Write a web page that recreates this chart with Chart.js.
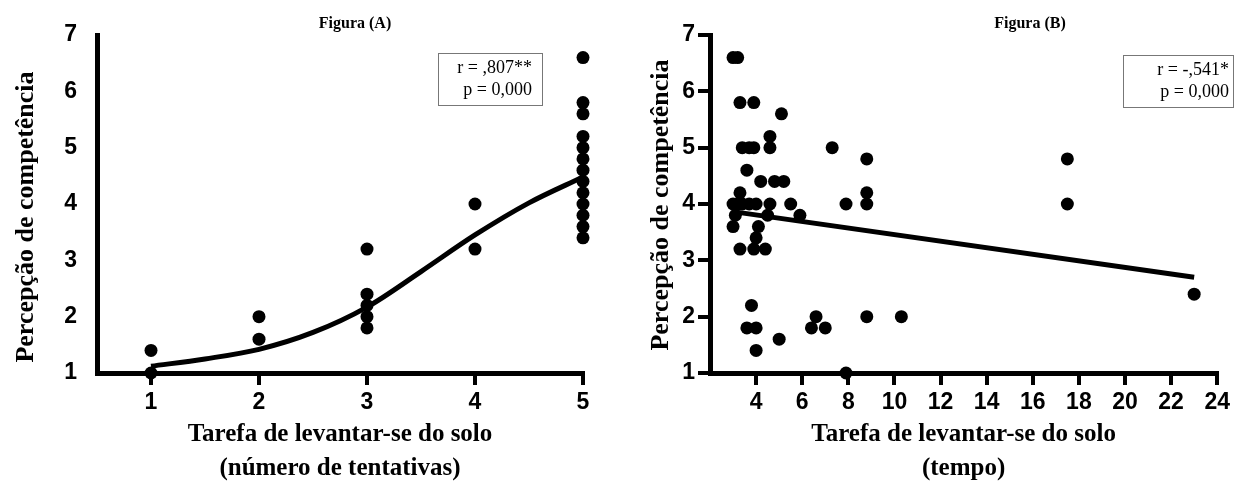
<!DOCTYPE html>
<html lang="pt">
<head>
<meta charset="UTF-8">
<title>Percepção de competência</title>
<style>
  body { margin: 0; background: #fff; }
  canvas { position: absolute; top: 0; }
  #figA { left: 0; }
  #figB { left: 617px; }
</style>
</head>
<body>
<canvas id="figA" width="617" height="489"></canvas>
<canvas id="figB" width="617" height="489"></canvas>

<script src="https://cdn.jsdelivr.net/npm/chart.js"></script>
<script>
// Figura (A) - número de tentativas
const tentativasX = [1, 1, 2, 2, 3, 3, 3, 3, 3, 4, 4,
                     5, 5, 5, 5, 5, 5, 5, 5, 5, 5, 5, 5, 5];
const tentativasY = [1.4, 1.0, 2.0, 1.6, 3.2, 2.4, 2.2, 2.0, 1.8, 4.0, 3.2,
                     6.6, 5.8, 5.6, 5.2, 5.0, 4.8, 4.6, 4.4, 4.2, 4.0, 3.8, 3.6, 3.4];
// curva ajustada
const curvaX = [1, 1.5, 2, 2.5, 3, 3.5, 4, 4.5, 5];
const curvaY = [1.12, 1.25, 1.42, 1.72, 2.17, 2.8, 3.45, 4.02, 4.48];
const ticksXA = [1, 2, 3, 4, 5];

// Figura (B) - tempo
const tempoX = [3.0, 3.2, 3.3, 3.9, 5.1, 3.4, 3.7, 3.9, 4.6, 4.6, 3.6,
                4.2, 4.8, 5.2, 3.3, 3.0, 3.2, 3.4, 3.7, 4.0, 4.6, 5.5, 7.9, 8.8,
                8.8, 8.8, 7.3, 5.9, 4.5, 3.1, 3.0, 4.1, 4.0, 3.3, 3.9, 4.4,
                3.8, 3.6, 4.0, 4.0, 5.0, 6.4, 6.6, 7.0, 7.9, 8.8, 10.3,
                17.5, 17.5, 23.0];
const tempoY = [6.6, 6.6, 5.8, 5.8, 5.6, 5.0, 5.0, 5.0, 5.2, 5.0, 4.6,
                4.4, 4.4, 4.4, 4.2, 4.0, 4.0, 4.0, 4.0, 4.0, 4.0, 4.0, 4.0, 4.0,
                4.2, 4.8, 5.0, 3.8, 3.8, 3.8, 3.6, 3.6, 3.4, 3.2, 3.2, 3.2,
                2.2, 1.8, 1.8, 1.4, 1.6, 1.8, 2.0, 1.8, 1.0, 2.0, 2.0,
                4.8, 4.0, 2.4];
const retaX = [3.07, 23.0];
const retaY = [3.86, 2.7];
const ticksXB = [4, 6, 8, 10, 12, 14, 16, 18, 20, 22, 24];

const ticksY = [1, 2, 3, 4, 5, 6, 7];

const pares = (xs, ys) => xs.map((x, i) => ({x: x, y: ys[i]}));

// títulos, rótulo do eixo y e caixa com r / p
const textos = {
  id: 'textos',
  afterDraw(chart, args, o) {
    const ctx = chart.ctx;
    ctx.save();
    ctx.fillStyle = '#000';
    ctx.textAlign = 'center';
    ctx.textBaseline = 'middle';
    ctx.font = 'bold 16px "Liberation Serif"';
    ctx.fillText(o.titulo, o.tituloX, 24);

    ctx.save();
    ctx.translate(o.eixoX, o.eixoY);
    ctx.rotate(-Math.PI / 2);
    ctx.font = 'bold 26px "Liberation Serif"';
    ctx.fillText('Percepção de competência', 0, 0);
    ctx.restore();

    const c = o.caixa;
    ctx.strokeStyle = '#777';
    ctx.lineWidth = 1;
    ctx.strokeRect(c.x + 0.5, c.y + 0.5, c.w, c.h);
    ctx.font = '18px "Liberation Serif"';
    ctx.textAlign = 'right';
    ctx.fillText(c.linhas[0], c.x + c.w - c.dx, c.y + 15);
    ctx.fillText(c.linhas[1], c.x + c.w - c.dx, c.y + 37);
    ctx.restore();
  }
};

function eixos(xmin, xmax, xticks, xtitulo, yTick, yPad) {
  const fonteTick = {family: 'Liberation Sans', size: 23, weight: 'bold'};
  return {
    x: {
      type: 'linear', min: xmin, max: xmax,
      afterBuildTicks: s => { s.ticks = xticks.map(v => ({value: v})); },
      afterFit: s => { s.height = 116; },
      border: {color: '#000', width: 5},
      grid: {drawOnChartArea: false, color: '#000', lineWidth: 4, tickLength: 12},
      ticks: {color: '#000', font: fonteTick, padding: 4, maxRotation: 0},
      title: {
        display: true, text: xtitulo, color: '#000',
        font: {family: 'Liberation Serif', size: 25, weight: 'bold', lineHeight: 1.36},
        padding: {bottom: 3}
      }
    },
    y: {
      type: 'linear', min: 1, max: 7,
      afterBuildTicks: s => { s.ticks = ticksY.map(v => ({value: v})); },
      afterFit: s => { s.width = yTick.w; },
      border: {color: '#000', width: 5},
      grid: {drawOnChartArea: false, drawTicks: yTick.draw, color: '#000', lineWidth: 4, tickLength: 12},
      ticks: {color: '#000', font: fonteTick, padding: yPad}
    }
  };
}

new Chart(document.getElementById('figA'), {
  type: 'scatter',
  data: {
    datasets: [{
      type: 'line',
      data: pares(curvaX, curvaY),
      borderColor: '#000', borderWidth: 5, pointRadius: 0,
      cubicInterpolationMode: 'monotone', fill: false, clip: false
    }, {
      data: pares(tentativasX, tentativasY),
      backgroundColor: '#000', borderWidth: 0, pointRadius: 6.5, clip: false
    }]
  },
  options: {
    responsive: false, animation: false,
    layout: {padding: {left: 0, right: 34, top: 35, bottom: 0}},
    plugins: {
      legend: {display: false}, tooltip: {enabled: false},
      textos: {
        titulo: 'Figura (A)', tituloX: 355, eixoX: 26, eixoY: 217,
        caixa: {x: 438, y: 53, w: 104, h: 52, dx: 10, linhas: ['r = ,807**', 'p = 0,000']}
      }
    },
    scales: eixos(0.5, 5, ticksXA, ['Tarefa de levantar-se do solo', '(número de tentativas)'], {w: 97, draw: false}, 20)
  },
  plugins: [textos]
});

new Chart(document.getElementById('figB'), {
  type: 'scatter',
  data: {
    datasets: [{
      type: 'line',
      data: pares(retaX, retaY),
      borderColor: '#000', borderWidth: 5, pointRadius: 0, fill: false, clip: false
    }, {
      data: pares(tempoX, tempoY),
      backgroundColor: '#000', borderWidth: 0, pointRadius: 6.5, clip: false
    }]
  },
  options: {
    responsive: false, animation: false,
    layout: {padding: {left: 0, right: 12, top: 35, bottom: 0}},
    plugins: {
      legend: {display: false}, tooltip: {enabled: false},
      textos: {
        titulo: 'Figura (B)', tituloX: 413, eixoX: 44, eixoY: 205,
        caixa: {x: 506, y: 55, w: 110, h: 52, dx: 4, linhas: ['r = -,541*', 'p = 0,000']}
      }
    },
    scales: eixos(2, 24, ticksXB, ['Tarefa de levantar-se do solo', '(tempo)'], {w: 93, draw: true}, 3)
  },
  plugins: [textos]
});
</script>
</body>
</html>
